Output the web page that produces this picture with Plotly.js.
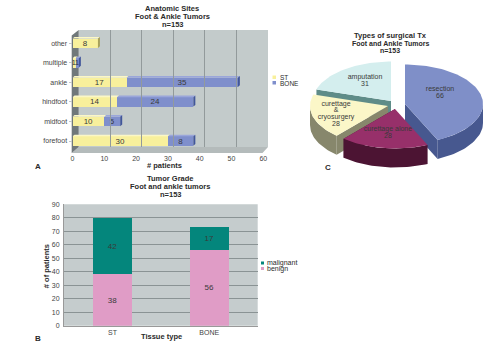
<!DOCTYPE html>
<html>
<head>
<meta charset="utf-8">
<script src="https://cdn.plot.ly/plotly-3.0.1.min.js"></script>
<style>html,body{margin:0;padding:0;background:#fff}#c{width:500px;height:355px}</style>
</head>
<body>
<div id="c"></div>
<script>
// ---------- DATA ----------
const siteCategories = ["forefoot","midfoot","hindfoot","ankle","multiple","other"];
const siteST   = [30,10,14,17,1,8];
const siteBONE = [8,5,24,35,1,null];
const gradeCategories = ["ST","BONE"];
const gradeBenign    = [38,56];
const gradeMalignant = [42,17];
const surgeryLabels = ["resection","curettage alone","curettage<br>&<br>cryosurgery","amputation"];
const surgeryValues = [66,28,28,31];

// ---------- STYLE / GEOMETRY ----------
const W=500,H=355;
const FONT='"Liberation Sans", Arial, sans-serif';
const TXT='#3a3a3a';
const fx=p=>p/W, fy=p=>1-p/H;
const xDom=(a,b)=>[fx(a),fx(b)], yDom=(top,bot)=>[fy(bot),fy(top)];
const pxX=3.18, pxY=19.55;            // panel A scale, px per unit
const barW=0.48;
const depthX=2/pxX, depthY=1.7/pxY;   // extrusion of the 3D bars in axis units
const C={st:'#f8f09c',stTop:'#fbf7c6',stSide:'#a8a25c',bone:'#7f8fcc',boneTop:'#9aa6da',boneSide:'#41569a',
         wall:'#c3cbcb',floor:'#b4bbbb',side:'#70787a',grid:'#929a9b'};

const traces=[];
const noHover={hoverinfo:'skip',showlegend:false};
// Panel A: back wall grid
traces.push({type:'scatter',mode:'none',x:[0],y:[0],xaxis:'x2',yaxis:'y2',...noHover});
// Panel A: bars
const idx=siteCategories.map((_,i)=>i);
const barText=a=>a.map(v=>v==null?'':String(v));
const barCommon={type:'bar',orientation:'h',width:barW,y:idx,xaxis:'x',yaxis:'y',textposition:'inside',
  insidetextanchor:'middle',constraintext:'none',textangle:0,textfont:{family:FONT,size:8,color:TXT},showlegend:false,hoverinfo:'x+y'};
traces.push({...barCommon,name:'ST',x:siteST,text:barText(siteST),marker:{color:C.st}});
traces.push({...barCommon,name:'BONE',x:siteBONE,text:barText(siteBONE),marker:{color:C.bone}});
// Panel A: extruded faces, derived from the values
function poly(xs,ys,color,xa,ya){return {type:'scatter',mode:'lines',x:[...xs,xs[0]],y:[...ys,ys[0]],fill:'toself',fillcolor:color,
  line:{width:0,color:color},xaxis:xa,yaxis:ya,...noHover};}
idx.forEach(i=>{
  const a=siteST[i]||0,b=a+(siteBONE[i]||0),t=i+barW/2,u=i-barW/2;
  traces.push(poly([0,a,a+depthX,depthX],[t,t,t+depthY,t+depthY],C.stTop,'x','y'));
  if(siteBONE[i]) traces.push(poly([a,b,b+depthX,a+depthX],[t,t,t+depthY,t+depthY],C.boneTop,'x','y'));
  traces.push(poly([b,b+depthX,b+depthX,b],[t,t+depthY,u+depthY,u],siteBONE[i]?C.boneSide:C.stSide,'x','y'));
});
// Panel B: stacked bars
const gradeCommon={type:'bar',x:gradeCategories,width:0.4,xaxis:'x3',yaxis:'y3',textposition:'inside',insidetextanchor:'middle',
  constraintext:'none',textangle:0,textfont:{family:FONT,size:8,color:TXT},showlegend:false};
traces.push({...gradeCommon,name:'benign',y:gradeBenign,text:gradeBenign.map(String),marker:{color:'#e09cc6'}});
traces.push({...gradeCommon,name:'malignant',y:gradeMalignant,text:gradeMalignant.map(String),marker:{color:'#04867c'}});

// Panel C: exploded elliptical pie, angles derived from the values
const RX=78,RY=39.5,DEPTH=19,LINE=6.7;
const pieStyle=[
 {c:[405,104],top:'#7f8fc8',dark:'#47588f',lab:[440,93]},
 {c:[395,109],top:'#97306a',dark:'#4c1433',lab:[388,133]},
 {c:[388,106],top:'#fbf7c8',dark:'#87876c',lab:[336,114]},
 {c:[391,101],top:'#d4eeee',dark:'#5f8c88',lab:[365,81]}];
const total=surgeryValues.reduce((a,b)=>a+b,0);
let acc=0;
const wedges=surgeryValues.map((v,i)=>{const a0=acc;acc+=v/total*360;return {a0,a1:acc,i};});
const rim=(w,a)=>{const r=a*Math.PI/180,c=pieStyle[w.i].c;return [c[0]+RX*Math.sin(r),c[1]-RY*Math.cos(r)];};
const arc=(w,a,b)=>{const p=[];const n=Math.max(2,Math.ceil(Math.abs(b-a)/2));for(let k=0;k<=n;k++)p.push(rim(w,a+(b-a)*k/n));return p;};
function pPoly(pts,color){traces.push(poly(pts.map(p=>p[0]),pts.map(p=>p[1]),color,'x4','y4'));}
const drawOrder=[3,2,0,1];
const cutAngle={3:'a0',2:'a0',0:'a1',1:'a1'};
drawOrder.forEach(i=>{
  const w=wedges[i],s=pieStyle[i],c=s.c;
  const edge=rim(w,w[cutAngle[i]]);
  pPoly([c,edge,[edge[0],edge[1]+DEPTH],[c[0],c[1]+DEPTH]],s.dark);
  const lo=Math.max(w.a0,90),hi=Math.min(w.a1,270);
  if(hi>lo){const top=arc(w,lo,hi);pPoly([...top,...top.slice().reverse().map(p=>[p[0],p[1]+DEPTH])],s.dark);}
  pPoly([c,...arc(w,w.a0,w.a1)],s.top);
});
// Pie labels: one text point per line so the line spacing stays tight
const labX=[],labY=[],labT=[];
surgeryLabels.forEach((l,i)=>{
  const lines=[...l.split('<br>'),String(surgeryValues[i])];
  lines.forEach((t,k)=>{labX.push(pieStyle[i].lab[0]);labY.push(pieStyle[i].lab[1]+(k-(lines.length-1)/2)*LINE);labT.push(t);});
});
traces.push({type:'scatter',mode:'text',xaxis:'x4',yaxis:'y4',x:labX,y:labY,text:labT,textposition:'middle center',
  textfont:{family:FONT,size:7,color:TXT},...noHover});

// ---------- LAYOUT ----------
const ann=(text,x,y,o={})=>({text,x:fx(x),y:fy(y),xref:'paper',yref:'paper',showarrow:false,xanchor:'center',yanchor:'middle',
  font:{family:FONT,size:o.size||7.5,color:o.color||'#2a2a2a'},textangle:o.angle||0,...(o.xanchor?{xanchor:o.xanchor}:{})});
const rect=(x0,y0,x1,y1,c)=>({type:'rect',xref:'paper',yref:'paper',x0:fx(x0),x1:fx(x1),y0:fy(y1),y1:fy(y0),fillcolor:c,line:{width:0},layer:'below'});
const path=(pts,c)=>({type:'path',xref:'paper',yref:'paper',layer:'below',fillcolor:c,line:{width:0},
  path:'M'+pts.map(p=>fx(p[0])+','+fy(p[1])).join('L')+'Z'});
const tickFont={family:FONT,size:7,color:'#444'};

const layout={
  width:W,height:H,margin:{l:0,r:0,t:0,b:0},paper_bgcolor:'#fff',plot_bgcolor:'rgba(0,0,0,0)',
  barmode:'stack',showlegend:false,font:{family:FONT},
  xaxis:{domain:xDom(72.5,263.3),range:[0,60],anchor:'free',position:fy(153),dtick:10,showgrid:false,zeroline:false,showline:false,
    ticks:'',tickfont:tickFont},
  yaxis:{domain:yDom(33.5,150.8),range:[-0.5,5.5],anchor:'free',position:fx(71.5),tickvals:idx,ticktext:siteCategories,showgrid:false,zeroline:false,showline:false,
    ticks:'outside',ticklen:3,tickcolor:'#c3c8c8',tickfont:tickFont},
  xaxis2:{domain:xDom(78.7,268),range:[0,60],dtick:10,anchor:'y2',showgrid:true,gridcolor:C.grid,gridwidth:1,zeroline:false,showticklabels:false,ticks:''},
  yaxis2:{domain:yDom(30,147),range:[0,1],anchor:'x2',showgrid:false,zeroline:false,showticklabels:false,ticks:''},
  xaxis3:{domain:xDom(64,257.7),anchor:'y3',type:'category',showgrid:false,zeroline:false,showline:true,linecolor:'#999',linewidth:1,
    tickfont:tickFont,ticks:''},
  yaxis3:{domain:yDom(204.3,325.7),range:[0,90],anchor:'x3',dtick:10,showgrid:true,gridcolor:'#8a9394',gridwidth:1.2,zeroline:false,showline:true,linecolor:'#999',linewidth:1,
    tickfont:tickFont,ticks:'outside',ticklen:2,tickcolor:'rgba(0,0,0,0)'},
  xaxis4:{domain:[0,1],range:[0,W],anchor:'y4',visible:false},
  yaxis4:{domain:[0,1],range:[H,0],anchor:'x4',visible:false},
  shapes:[
    rect(78.7,30,268,147,C.wall),
    path([[78.7,147],[268,147],[262.5,153],[71.7,153]],C.floor),
    path([[78.7,30],[78.7,147],[71.7,153],[71.7,35.5]],C.side),
    rect(64,204.3,257.7,325.7,'#c5cccd'),
    rect(272.5,75.5,276,79,C.st),rect(272.5,81,276,84.5,C.bone),
    rect(261,261.5,264,264.5,'#04867c'),rect(261,267,264,270,'#e09cc6')
  ],
  annotations:[
    ann('<b>Anatomic Sites</b>',172,8.5),ann('<b>Foot &amp; Ankle Tumors</b>',172,16.5),ann('<b>n=153</b>',172,24),
    ann('<b>Tumor Grade</b>',170,178.5),ann('<b>Foot and ankle tumors</b>',170,186.5),ann('<b>n=153</b>',170,194.5),
    ann('<b>Types of surgical Tx</b>',390,36),ann('<b>Foot and Ankle Tumors</b>',390,43,{size:7}),ann('<b>n=153</b>',390,50,{size:7}),
    ann('<b># patients</b>',164,165),ann('<b>Tissue type</b>',161.7,336.7),ann('<b># of patients</b>',46.5,266.7,{angle:-90}),
    ann('<b>A</b>',38,166,{size:8}),ann('<b>B</b>',37.5,338,{size:8}),ann('<b>C</b>',328,167,{size:8}),
    ann('ST',278,77.5,{xanchor:'left',size:6.5}),ann('BONE',278,83,{xanchor:'left',size:6.5}),
    ann('malignant',265,263,{xanchor:'left',size:7}),ann('benign',265,268.5,{xanchor:'left',size:7})
  ]
};
Plotly.newPlot('c',traces,layout,{displayModeBar:false,staticPlot:true});
</script>
</body>
</html>
